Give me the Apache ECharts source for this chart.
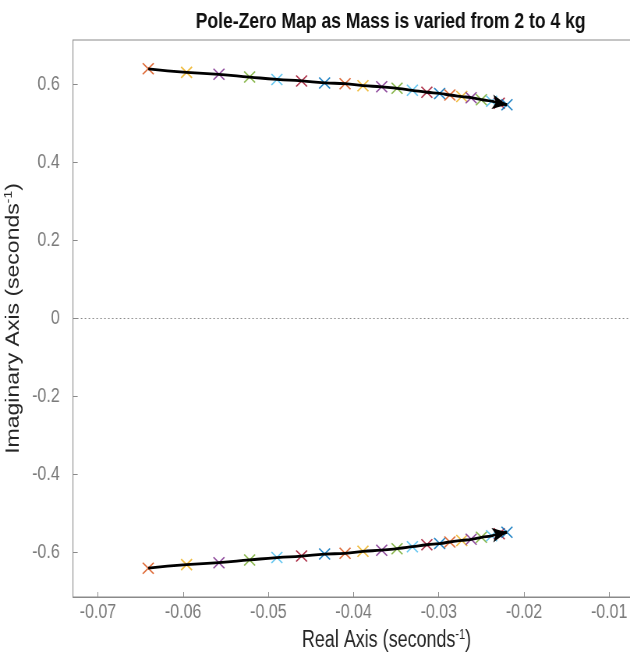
<!DOCTYPE html>
<html>
<head>
<meta charset="utf-8">
<title>Pole-Zero Map</title>
<script src="https://cdn.jsdelivr.net/npm/echarts@6/dist/echarts.min.js"></script>
<style>
  html, body { margin: 0; padding: 0; background: #fff; overflow: hidden; width: 630px; height: 655px; }
  /* the figure is laid out wide and then condensed horizontally */
  #chart { width: 808px; height: 655px; transform: scaleX(0.7797); transform-origin: 0 0; }
</style>
</head>
<body>
<div id="chart"></div>
<script>
// Pole locations (upper branch) for mass = 2, 2.1, ... 4 kg
const realPart = [-0.0641, -0.0596, -0.0558, -0.0522, -0.0490, -0.0461, -0.0434,
                  -0.0410, -0.0389, -0.0367, -0.0349, -0.0331, -0.0314, -0.0299,
                  -0.0287, -0.0273, -0.0262, -0.0250, -0.0238, -0.0229, -0.0220];
const imagPart = [0.640, 0.631, 0.626, 0.619, 0.613, 0.609, 0.604,
                  0.602, 0.597, 0.594, 0.590, 0.585, 0.580, 0.577,
                  0.573, 0.569, 0.566, 0.561, 0.557, 0.552, 0.548];

// Tick positions
const xTicks = [-0.07, -0.06, -0.05, -0.04, -0.03, -0.02, -0.01, 0];
const yTicks = [-0.6, -0.4, -0.2, 0, 0.2, 0.4, 0.6];

// Plot colour order; the first pole set uses the second colour
const colorOrder = ['#0072BD', '#D95319', '#EDB120', '#7E2F8E', '#77AC30', '#4DBEEE', '#A2142F'];

const crossSymbol = 'path://M0,0L10,10M10,0L0,10';
const fontFamily = "'Liberation Sans', Arial, sans-serif";

const upper = realPart.map((re, i) => [re, imagPart[i]]);
const lower = realPart.map((re, i) => [re, -imagPart[i]]);

function poleItems(points) {
  return points.map((p, i) => ({
    value: p,
    itemStyle: {
      color: 'rgba(0,0,0,0)',
      borderColor: colorOrder[(i + 1) % colorOrder.length],
      borderWidth: 1.6,
      opacity: 0.85
    }
  }));
}

function arrowSeries(points) {
  const n = points.length;
  return {
    type: 'line',
    data: points,
    smooth: true,
    showSymbol: false,
    z: 5,
    lineStyle: { color: '#000', width: 2.8 },
    markLine: {
      silent: true,
      symbol: ['none', 'arrow'],
      symbolSize: [11, 19],
      label: { show: false },
      lineStyle: { color: '#000', width: 2.8, type: 'solid' },
      data: [[{ coord: points[n - 2] }, { coord: points[n - 1] }]]
    }
  };
}

const nameStyle = {
  fontFamily, fontSize: 23, color: '#262626', lineHeight: 26,
  rich: { sup: { fontFamily, fontSize: 14, color: '#262626', verticalAlign: 'top', lineHeight: 26 } }
};
const tickLabelStyle = { fontFamily, fontSize: 20.5, color: '#7a7a7a' };

const chart = echarts.init(document.getElementById('chart'));
chart.setOption({
  animation: false,
  backgroundColor: '#fff',
  title: {
    text: 'Pole-Zero Map as Mass is varied from 2 to 4 kg',
    left: 496,
    textAlign: 'center',
    top: 5,
    textStyle: { fontFamily, fontSize: 22.5, fontWeight: 'bold', color: '#111' }
  },
  grid: {
    left: 93.6, right: -89.8, top: 40, bottom: 58,
    outerBoundsMode: 'none',
    show: true, borderColor: '#8a8a8a', borderWidth: 1, backgroundColor: '#fff'
  },
  xAxis: {
    type: 'value',
    min: -0.07293, max: 0.00066,
    name: 'Real Axis (seconds{sup|-1})',
    nameLocation: 'middle',
    nameGap: 24,
    nameTextStyle: nameStyle,
    axisLine: { show: true, onZero: false, lineStyle: { color: '#8a8a8a' } },
    axisTick: { show: true, inside: true, length: 5, customValues: xTicks, lineStyle: { color: '#8a8a8a' } },
    axisLabel: Object.assign({
      customValues: xTicks, margin: 5,
      formatter: v => v.toFixed(2)
    }, tickLabelStyle),
    splitLine: { show: false }
  },
  yAxis: {
    type: 'value',
    min: -0.714, max: 0.714,
    name: 'Imaginary Axis (seconds{sup|-1})',
    nameLocation: 'middle',
    nameGap: 41,
    nameTextStyle: nameStyle,
    axisLine: { show: true, onZero: false, lineStyle: { color: '#8a8a8a' } },
    axisTick: { show: true, inside: true, length: 6, customValues: yTicks, lineStyle: { color: '#8a8a8a' } },
    axisLabel: Object.assign({
      customValues: yTicks, margin: 17,
      formatter: v => String(Math.round(v * 10) / 10)
    }, tickLabelStyle),
    splitLine: { show: false }
  },
  series: [
    {
      // dotted zero line for the real axis
      type: 'line',
      data: [],
      markLine: {
        silent: true,
        symbol: ['none', 'none'],
        label: { show: false },
        lineStyle: { color: '#888', width: 1, type: [2, 3] },
        data: [{ yAxis: 0 }]
      }
    },
    { type: 'scatter', data: poleItems(upper), symbol: crossSymbol, symbolSize: [14, 11], z: 3 },
    { type: 'scatter', data: poleItems(lower), symbol: crossSymbol, symbolSize: [14, 11], z: 3 },
    arrowSeries(upper),
    arrowSeries(lower)
  ]
});
</script>
</body>
</html>
